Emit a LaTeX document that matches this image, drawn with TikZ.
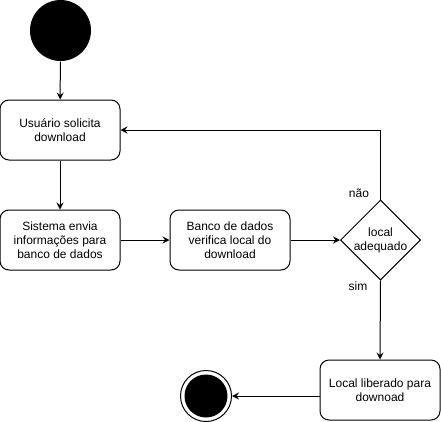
\documentclass[tikz,border=0pt]{standalone}
\usepackage{fontspec}
\setmainfont{Liberation Sans}
\usetikzlibrary{shapes.geometric,arrows.meta}

\begin{document}
\begin{tikzpicture}[x=1pt,y=-1pt,line width=1pt,
    texto/.style={font=\fontsize{12}{14}\selectfont},
    acao/.style={texto,draw,rounded corners=9pt,minimum width=120pt,minimum height=60pt,align=center},
    decisao/.style={texto,draw,diamond,aspect=1,minimum width=80pt,minimum height=80pt,inner sep=0pt,align=center},
    seta/.style={-{Stealth[length=7pt,width=7pt,inset=2.5pt]}}]
    \useasboundingbox (0,0) rectangle (441,421);
    \node[circle,fill=black,minimum size=61pt,inner sep=0pt] (inicio) at (60.5,30.5) {};
    \node[acao] (solicita) at (60,130) {Usuário solicita\\download};
    \node[acao] (envia) at (60,240) {Sistema envia\\informações para\\banco de dados};
    \node[acao] (verifica) at (230,240) {Banco de dados\\verifica local do\\download};
    \node[decisao] (adequado) at (380.5,240) {local\\adequado};
    \node[acao] (libera) at (380,390) {Local liberado para\\downoad};
    \node[circle,draw,minimum size=51pt,inner sep=0pt] (fim) at (206,396) {};
    \fill (fim.center) circle (21.5);
    \node[texto] (nao) at (359,193) {não};
    \node[texto] (sim) at (358,286) {sim};
    \draw[seta] (inicio) -- (solicita);
    \draw[seta] (solicita) -- (envia);
    \draw[seta] (envia) -- (verifica);
    \draw[seta] (verifica) -- (adequado);
    \draw[seta] (adequado.north) |- (solicita.east);
    \draw[seta] (adequado.south) -- (libera.north);
    \draw[seta] (libera.west |- fim.east) -- (fim.east);
\end{tikzpicture}
\end{document}
